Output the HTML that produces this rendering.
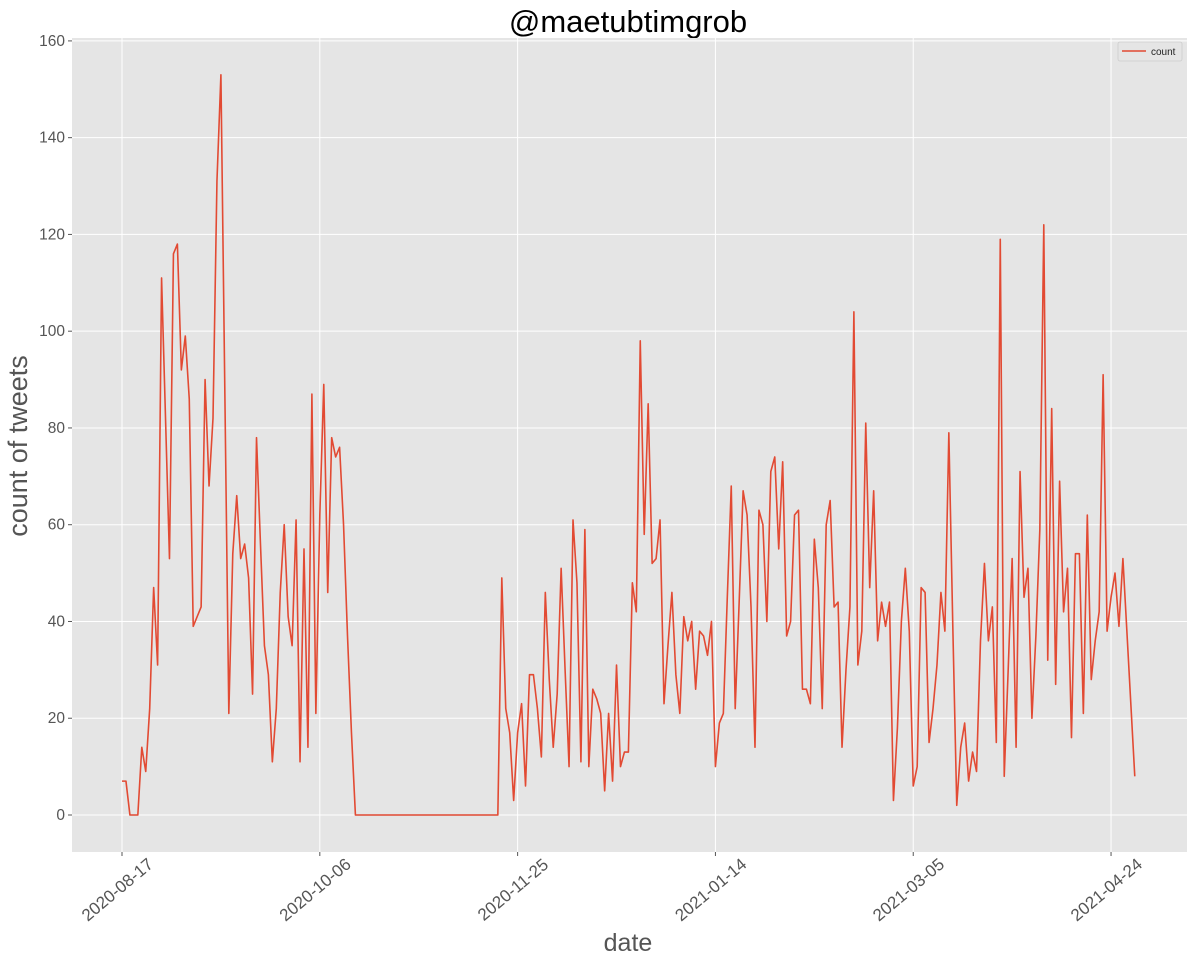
<!DOCTYPE html>
<html><head><meta charset="utf-8"><style>
body{margin:0;background:#fff;}
svg{display:block;font-family:"Liberation Sans","DejaVu Sans",sans-serif;}
</style></head><body>
<svg id="chart" width="1194" height="962" xmlns="http://www.w3.org/2000/svg">
<text x="628" y="32" text-anchor="middle" font-size="31" fill="#000">@maetubtimgrob</text>
<rect x="72" y="38" width="1115" height="814" fill="#E5E5E5"/>
<g id="grid"></g>
<g id="axes"></g>
<path id="line" fill="none" stroke="#E24A33" stroke-width="1.6" stroke-linejoin="round"/>
<text transform="translate(27,446) rotate(-90)" text-anchor="middle" font-size="27" fill="#555">count of tweets</text>
<text x="628" y="951" text-anchor="middle" font-size="25" fill="#555">date</text>
<g>
<rect x="1118" y="42" width="64" height="19" fill="#E5E5E5" stroke="#ccc" stroke-width="0.8" rx="2"/>
<line x1="1122" y1="51" x2="1146" y2="51" stroke="#E24A33" stroke-width="1.6"/>
<text x="1151" y="55" font-size="10" fill="#222">count</text>
</g>
</svg>
<script>
const values = [7,7,0,0,0,14,9,22,47,31,111,82,53,116,118,92,99,86,39,41,43,90,68,82,131,153,87,21,54,66,53,56,49,25,78,56,35,29,11,22,46,60,41,35,61,11,55,14,87,21,62,89,46,78,74,76,60,37,17,
0,0,0,0,0,0,0,0,0,0,0,0,0,0,0,0,0,0,0,0,0,0,0,0,0,0,0,0,0,0,0,0,0,0,0,0,0,
49,22,17,3,17,23,6,29,29,22,12,46,28,14,25,51,30,10,61,48,11,59,10,26,24,21,5,21,7,31,10,13,13,48,42,98,58,85,52,53,61,23,35,46,29,21,41,36,40,26,38,37,33,40,
10,19,21,45,68,22,44,67,62,43,14,63,60,40,71,74,55,73,37,40,62,63,26,26,23,57,47,22,60,65,43,44,14,30,43,104,31,38,81,47,67,36,44,39,44,3,18,40,51,38,
6,10,47,46,15,22,31,46,38,79,39,2,14,19,7,13,9,36,52,36,43,15,119,8,30,53,14,71,45,51,20,37,59,122,32,84,27,69,42,51,16,54,54,21,62,28,36,42,91,38,45,50,39,53,38,23,8];
const xTickDays = [0,50,100,150,200,250];
const xTickLabels = ["2020-08-17","2020-10-06","2020-11-25","2021-01-14","2021-03-05","2021-04-24"];
const yTicks = [0,20,40,60,80,100,120,140,160];

const X0=72,X1=1187,Y0=852,Y1=38;
const dMin=-12.64,dMax=269.2,vMin=-7.65,vMax=160.6;
function xs(d){return X0+(d-dMin)/(dMax-dMin)*(X1-X0);}
function ys(v){return Y0-(v-vMin)/(vMax-vMin)*(Y0-Y1);}
const NS="http://www.w3.org/2000/svg";
const grid=document.getElementById('grid'), axes=document.getElementById('axes');
function mk(tag,attrs,parent){const e=document.createElementNS(NS,tag);for(const k in attrs)e.setAttribute(k,attrs[k]);parent.appendChild(e);return e;}
yTicks.forEach(v=>{
  const y=ys(v);
  const g=mk('line',{x1:X0,x2:X1,y1:y,y2:y,stroke:'#fff','stroke-width':1},grid);
  
  
  const t=mk('line',{x1:X0-4,x2:X0,y1:y,y2:y,stroke:'#555','stroke-width':1},axes);
  
  
  const l=mk('text',{x:X0-7,y:y+5,'text-anchor':'end','font-size':15.5,fill:'#555'},axes);
  l.textContent=v;
  
  
});
xTickDays.forEach((d,i)=>{
  const x=xs(d);
  const g=mk('line',{x1:x,x2:x,y1:Y1,y2:Y0,stroke:'#fff','stroke-width':1},grid);
  
  
  const t=mk('line',{x1:x,x2:x,y1:Y0,y2:Y0+4,stroke:'#555','stroke-width':1},axes);
  
  
  const l=mk('text',{transform:`translate(${x-1},${Y0+42}) rotate(-40)`,'text-anchor':'middle','font-size':17,fill:'#555'},axes);
  l.textContent=xTickLabels[i];
  
  
});
document.getElementById('line').setAttribute('d',values.map((v,i)=>(i?'L':'M')+xs(i).toFixed(2)+','+ys(v).toFixed(2)).join(''));
</script>
</body></html>
